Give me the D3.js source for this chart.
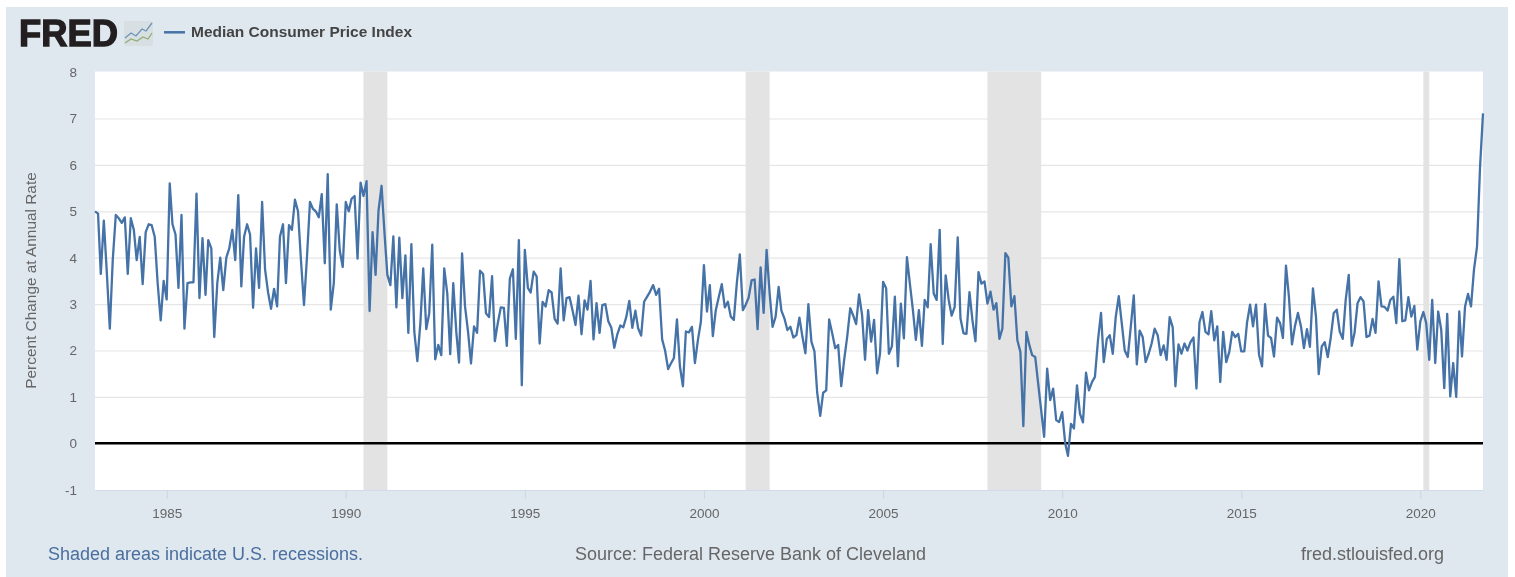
<!DOCTYPE html>
<html>
<head>
<meta charset="utf-8">
<script src="https://cdn.jsdelivr.net/npm/d3@7"></script>
<style>
html,body{margin:0;padding:0;background:#fff;overflow:hidden}
svg{display:block;font-family:"Liberation Sans",Arial,sans-serif;filter:blur(0.45px)}
</style>
</head>
<body>
<svg id="c" width="1515" height="577"></svg>
<script>
const seriesName = "Median Consumer Price Index";
const yAxisTitle = "Percent Change at Annual Rate";
const startYear = 1983;
const values = [
5.0,4.95,3.65,4.8,3.7,2.47,3.95,4.92,4.85,4.75,4.87,3.65,
4.85,4.6,3.95,4.45,3.43,4.55,4.72,4.7,4.45,3.45,2.65,3.5,
3.1,5.6,4.72,4.5,3.35,4.92,2.47,3.45,3.47,3.47,5.38,3.13,
4.42,3.2,4.38,4.2,2.29,3.45,4.0,3.3,4.0,4.2,4.6,3.95,
5.35,3.38,4.45,4.72,4.5,2.92,4.2,3.35,5.2,3.75,3.25,2.9,
3.33,2.95,4.45,4.72,3.45,4.7,4.6,5.25,5.0,3.95,2.98,4.0,
5.2,5.05,5.0,4.87,5.37,3.88,5.8,2.88,3.45,5.15,4.15,3.8,
5.2,5.0,5.27,5.33,3.98,5.62,5.33,5.65,2.85,4.55,3.63,5.02,
5.55,4.5,3.63,3.41,4.46,2.93,4.43,3.13,4.05,2.38,4.29,2.4,
1.77,2.6,3.77,2.46,2.8,4.28,1.81,2.12,1.9,3.77,3.23,1.92,
3.45,2.4,1.74,4.09,2.95,2.4,1.72,2.52,2.38,3.72,3.65,2.8,
2.72,3.6,2.2,2.6,2.93,2.92,2.1,3.55,3.75,2.25,4.38,1.25,
4.17,3.35,3.25,3.7,3.6,2.15,3.05,2.95,3.3,3.25,2.68,2.58,
3.77,2.65,3.13,3.15,2.87,2.55,3.18,2.35,3.08,2.88,3.5,2.24,
3.02,2.38,2.98,3.0,2.63,2.49,2.06,2.35,2.54,2.5,2.73,3.07,
2.49,2.86,2.48,2.32,3.05,3.16,3.27,3.41,3.2,3.33,2.24,2.0,
1.6,1.73,1.84,2.67,1.66,1.23,2.41,2.39,2.51,1.73,2.23,2.62,
3.84,2.84,3.41,2.31,2.87,3.16,3.43,2.93,3.05,2.73,2.66,3.44,
4.07,2.87,2.98,3.14,3.51,3.53,2.46,3.79,2.81,4.17,3.23,2.51,
2.73,3.37,2.86,2.69,2.44,2.51,2.28,2.33,2.71,2.3,1.94,3.0,
2.19,1.98,1.09,0.59,1.09,1.14,2.67,2.37,2.05,2.12,1.23,1.8,
2.3,2.91,2.76,2.57,3.21,2.76,1.8,2.87,2.19,2.66,1.51,1.94,
3.48,3.34,1.93,2.09,3.16,1.66,3.01,2.26,4.01,3.44,2.87,2.23,
2.87,2.1,3.09,2.93,4.29,3.23,3.09,4.6,2.14,3.62,3.09,2.75,
2.94,4.44,2.69,2.37,2.36,3.26,2.65,2.2,3.69,3.44,3.49,3.01,
3.27,2.88,3.02,2.25,2.47,4.1,4.0,2.95,3.17,2.22,1.97,0.37,
2.4,2.11,1.9,1.86,1.29,0.71,0.14,1.61,0.93,1.18,0.5,0.46,
0.67,0,-0.27,0.42,0.32,1.25,0.64,0.45,1.52,1.14,1.32,1.43,
2.22,2.81,1.75,2.25,2.33,1.93,2.72,3.17,2.58,2.0,1.86,2.5,
3.19,1.7,2.43,2.29,1.75,1.93,2.15,2.47,2.33,1.9,2.11,1.8,
2.72,2.5,1.23,2.13,1.93,2.15,2.0,2.18,2.28,1.18,2.61,2.83,
2.4,2.35,2.85,2.22,2.52,1.32,2.4,1.75,1.97,2.4,2.29,2.36,
1.98,1.98,2.6,2.99,2.52,2.99,1.91,1.66,3.0,2.32,2.27,1.87,
2.71,2.59,2.27,3.83,3.16,2.13,2.52,2.81,2.52,2.05,2.46,2.08,
3.34,2.73,1.49,2.09,2.18,1.86,2.27,2.81,2.88,2.41,2.25,3.09,
3.63,2.1,2.38,3.02,3.15,3.06,2.29,2.32,2.68,2.38,3.49,2.95,
2.94,2.86,3.09,3.16,2.59,3.97,2.63,2.65,3.15,2.73,2.96,2.02,
2.63,2.83,2.59,1.8,3.09,1.73,2.84,2.45,1.19,2.79,1.01,1.73,
1.0,2.84,1.87,2.95,3.22,2.95,3.74,4.24,5.96,7.11
];
const recessionStarts = ["1990-07-01","2001-03-01","2007-12-01","2020-02-01"];
const recessionEnds   = ["1991-03-01","2001-11-01","2009-06-01","2020-04-01"];
const xTickYears = [1985,1990,1995,2000,2005,2010,2015,2020];
const yTickValues = [-1,0,1,2,3,4,5,6,7,8];
const footLeft = "Shaded areas indicate U.S. recessions.";
const footMid = "Source: Federal Reserve Bank of Cleveland";
const footRight = "fred.stlouisfed.org";

const svg = d3.select("#c");
const L=95,R=1483,T=71.5,B=490;
const dates = values.map((v,i)=>new Date(startYear,i,1));
const x = d3.scaleTime().domain([dates[0],dates[dates.length-1]]).range([L,R]);
const y = d3.scaleLinear().domain([-1,8]).range([489.7,72.1]);

svg.append("rect").attr("x",6).attr("y",7).attr("width",1502).attr("height",570).attr("fill","#dfe7ef");
svg.append("rect").attr("x",L).attr("y",T).attr("width",R-L).attr("height",B-T).attr("fill","#fff");

// y axis + grid
const gy = svg.append("g").attr("transform",`translate(${L},0)`)
 .call(d3.axisLeft(y).tickValues(yTickValues).tickSize(-(R-L)).tickPadding(18).tickFormat(d=>String(d)));
gy.select(".domain").remove();
gy.selectAll("line").attr("stroke","#e6e6e6").attr("stroke-width",1.2);
gy.selectAll("text").attr("font-size",13.5).attr("fill","#666");
gy.selectAll(".tick").filter(d=>d===8||d===-1).select("line").remove();

// recession bands cover gridlines in the reference
svg.append("g").selectAll("rect").data(recessionStarts).join("rect")
 .attr("x",d=>x(new Date(d+"T00:00")))
 .attr("width",(d,i)=>x(new Date(recessionEnds[i]+"T00:00"))-x(new Date(d+"T00:00")))
 .attr("y",T).attr("height",B-T).attr("fill","#e3e3e3");

// x axis
const gx = svg.append("g").attr("transform",`translate(0,${B})`)
 .call(d3.axisBottom(x).tickValues(xTickYears.map(v=>new Date(v,0,1))).tickSize(9).tickSizeOuter(0).tickPadding(9).tickFormat(d3.timeFormat("%Y")));
gx.select(".domain").attr("stroke","#d0dcec").attr("stroke-width",1);
gx.selectAll("line").attr("stroke","#c9d6e6");
gx.selectAll("text").attr("font-size",13.5).attr("fill","#666");

// zero line
svg.append("line").attr("x1",L).attr("x2",R).attr("y1",y(0)).attr("y2",y(0)).attr("stroke","#000").attr("stroke-width",2.4);

// series
svg.append("path").datum(values)
 .attr("fill","none").attr("stroke","#4572a7").attr("stroke-width",2.3).attr("stroke-linejoin","round")
 .attr("d",d3.line().x((d,i)=>x(dates[i])).y(d=>y(d)));

// y title
svg.append("text").attr("transform",`translate(36,280.5) rotate(-90)`).attr("text-anchor","middle")
 .attr("font-size",15.4).attr("fill","#666").text(yAxisTitle);

// legend
svg.append("line").attr("x1",164).attr("x2",185).attr("y1",32.3).attr("y2",32.3).attr("stroke","#4572a7").attr("stroke-width",2.5);
svg.append("text").attr("x",191).attr("y",37).attr("font-size",14.4).attr("font-weight","bold").attr("fill","#444").attr("textLength",221).attr("lengthAdjust","spacingAndGlyphs").text(seriesName);

// FRED logo
svg.append("text").attr("x",19).attr("y",46).attr("font-size",36).attr("font-weight","bold")
 .attr("fill","#231f20").attr("stroke","#231f20").attr("stroke-width",1.3).attr("textLength",99).attr("lengthAdjust","spacingAndGlyphs").text("FRED");
const icon = svg.append("g");
icon.append("rect").attr("x",124).attr("y",21).attr("width",29).attr("height",25).attr("rx",2).attr("fill","#d7dfe2");
icon.append("path").attr("d","M125 38 L131 33 L136 36 L142 29 L146 31 L152 23").attr("fill","none").attr("stroke","#6f93b8").attr("stroke-width",1.3);
icon.append("path").attr("d","M125 43 L131 39 L137 41 L143 37 L148 39 L152 33").attr("fill","none").attr("stroke","#94ad78").attr("stroke-width",1.3);

// footer
svg.append("text").attr("x",48).attr("y",560).attr("font-size",18).attr("fill","#4a6f9f").attr("textLength",315).attr("lengthAdjust","spacingAndGlyphs").text(footLeft);
svg.append("text").attr("x",575).attr("y",560).attr("font-size",18).attr("fill","#666").attr("textLength",351).attr("lengthAdjust","spacingAndGlyphs").text(footMid);
svg.append("text").attr("x",1444).attr("y",560).attr("text-anchor","end").attr("font-size",18).attr("fill","#666").text(footRight);
</script>
</body>
</html>
